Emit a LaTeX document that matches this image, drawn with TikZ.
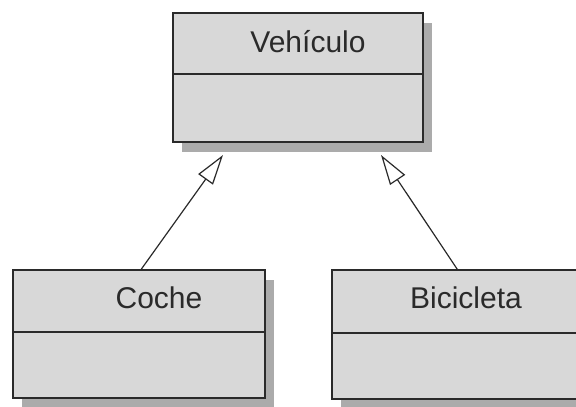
\documentclass[tikz,border=0pt]{standalone}
\usepackage{fontspec}
\setmainfont{Liberation Sans}
\usetikzlibrary{arrows.meta,shadows}
\definecolor{boxfill}{HTML}{D8D8D8}
\definecolor{boxshade}{HTML}{ABABAB}
\definecolor{ink}{HTML}{2A2A2A}
\tikzset{
  classbox/.style={draw=ink, line width=1.5pt, fill=boxfill, inner sep=0pt,
    drop shadow={shadow xshift=9pt, shadow yshift=-10pt, fill=boxshade, opacity=1}},
  divider/.style={draw=ink, line width=1.5pt},
  classname/.style={font=\fontsize{30}{34}\selectfont, text=ink, inner sep=0pt},
  generalization/.style={draw=ink, line width=1.2pt,
    -{Triangle[open, length=30pt, width=18pt, fill=white]}}
}
\begin{document}
\begin{tikzpicture}[x=1pt, y=-1pt]
  \useasboundingbox (0,0) rectangle (576,407);
  \clip (0,0) rectangle (576,407);

  % superclass
  \node[classbox, minimum width=250pt, minimum height=129pt] (veh) at (298,77.5) {};
  \draw[divider] (173,74) -- (423,74);
  \node[classname] (vehname) at (308,42) {Vehículo};

  % subclasses
  \node[classbox, minimum width=252pt, minimum height=128pt] (coche) at (139,334) {};
  \draw[divider] (13,332) -- (265,332);
  \node[classname] (cochename) at (159,298) {Coche};

  \node[classbox, minimum width=258pt, minimum height=129pt] (bici) at (461,334.5) {};
  \draw[divider] (332,333) -- (590,333);
  \node[classname] (biciname) at (466,298) {Bicicleta};

  % inheritance arrows
  \coordinate (tipL) at (223,155);
  \coordinate (tipR) at (381,155);
  \draw[generalization] (coche.north west) ++(129,0) -- (tipL);
  \draw[generalization] (bici.north west) ++(126,0) -- (tipR);
\end{tikzpicture}
\end{document}
